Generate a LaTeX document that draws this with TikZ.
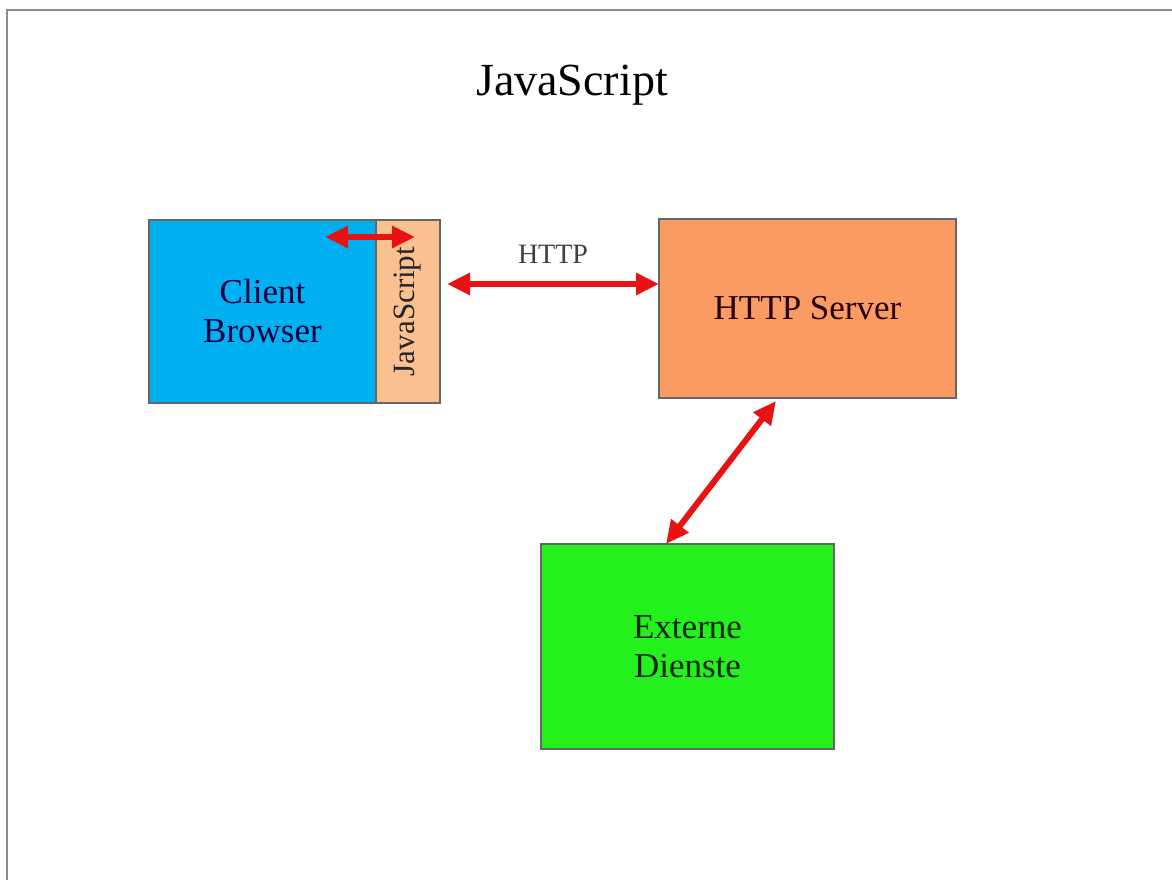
\documentclass[tikz,border=0pt]{standalone}
\usepackage{fontspec}
\setmainfont{Liberation Serif}
\usetikzlibrary{arrows.meta, positioning}

\definecolor{clientblue}{RGB}{0,176,240}
\definecolor{jsorange}{RGB}{250,192,144}
\definecolor{serverorange}{RGB}{250,155,100}
\definecolor{extgreen}{RGB}{36,240,30}
\definecolor{arrowred}{RGB}{232,18,18}

\begin{document}
\begin{tikzpicture}[
    x=1pt, y=-1pt,
    box/.style={draw=black!60, line width=1.4pt, inner sep=0pt, outer sep=0pt,
                align=center, font=\fontsize{35}{39}\selectfont},
    link/.style={draw=arrowred, line width=6pt,
                 {Triangle[length=23pt,width=21pt]}-{Triangle[length=23pt,width=21pt]}}
  ]
  \useasboundingbox (0,0) rectangle (1172,880);
  % Frame
  \draw[black!45, line width=2.5pt] (7,880) -- (7,10) -- (1172,10);

  % Title
  \node[font=\fontsize{46}{50}\selectfont] (title) at (572,85) {JavaScript};

  % Client side
  \node[box, fill=clientblue, text=black!75!blue, minimum width=227pt, minimum height=183pt]
    (client) at (262.5,311.5) {Client\\Browser};
  \node[box, fill=jsorange, minimum width=64pt, minimum height=183pt, right=0pt of client]
    (js) {};
  \node[rotate=90, font=\fontsize{31}{35}\selectfont, text=black!85] (jslabel) at (js.center) {JavaScript};

  % Server side
  \node[box, fill=serverorange, text=black!85!red, minimum width=297pt, minimum height=179pt]
    (server) at (807.5,308.5) {HTTP Server};
  \node[box, fill=extgreen, text=black!85!green, minimum width=293pt, minimum height=205pt]
    (ext) at (687.5,646.5) {Externe\\Dienste};

  % Arrows
  \coordinate (jsa) at ([xshift=-51pt, yshift=-17pt]client.north east);
  \coordinate (jsb) at ([xshift=7pt, yshift=-17pt]js.north);
  \draw[link] (jsa) -- (jsb);

  \coordinate (httpa) at ([xshift=7pt, yshift=27.5pt]js.east);
  \coordinate (httpb) at ([yshift=24.5pt]server.west);
  \draw[link] (httpa) -- node[above=14pt, font=\fontsize{28}{30}\selectfont, text=black!75] (httplabel) {HTTP} (httpb);

  \coordinate (srvlow) at ([xshift=117pt, yshift=-3pt]server.south west);
  \coordinate (exthigh) at ([xshift=125pt]ext.north west);
  \draw[link] (srvlow) -- (exthigh);
\end{tikzpicture}
\end{document}
